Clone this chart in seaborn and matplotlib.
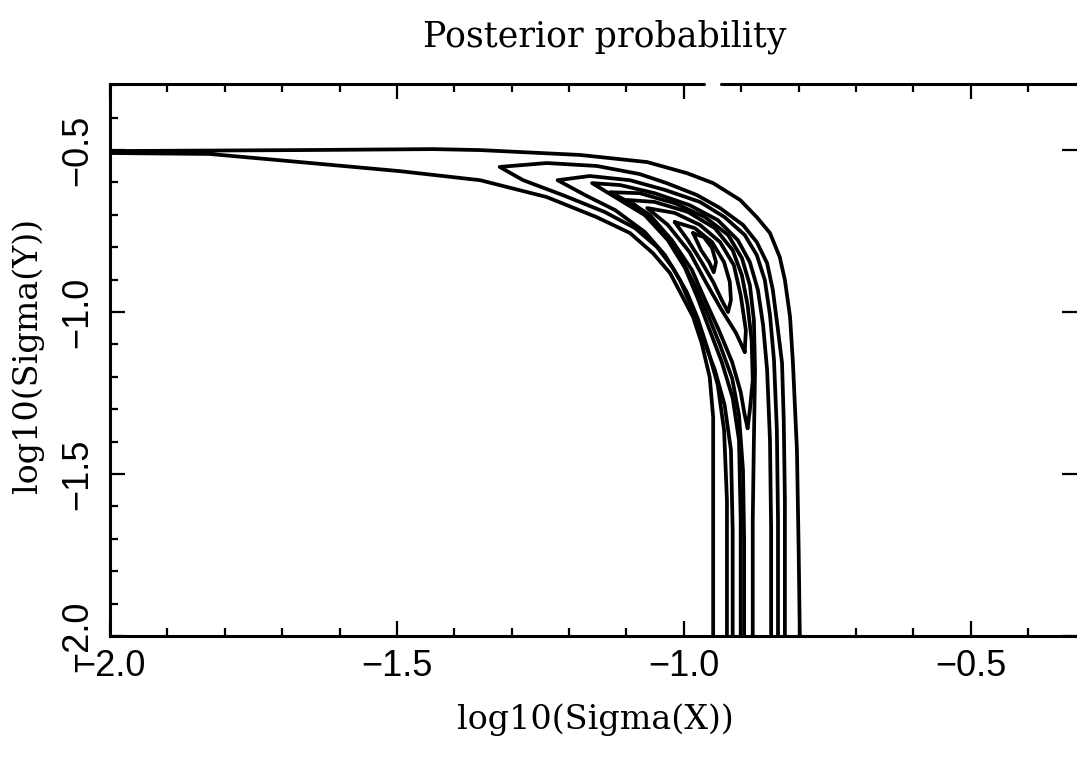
import matplotlib
matplotlib.use("Agg")
import matplotlib.pyplot as plt
from matplotlib.ticker import MultipleLocator
import numpy as np
import pandas as pd
import seaborn as sns

# ---------------- data ----------------
title_text = "Posterior probability"
x_label = "log10(Sigma(X))"
y_label = "log10(Sigma(Y))"

xtick_values = [-2.0, -1.5, -1.0, -0.5]
xtick_labels = ["\u22122.0", "\u22121.5", "\u22121.0", "\u22120.5"]
ytick_values = [-2.0, -1.5, -1.0, -0.5]
ytick_labels = ["\u22122.0", "\u22121.5", "\u22121.0", "\u22120.5"]

# contour level 1 (outermost, open: left axis -> bottom)
L1_x = [-0.798, -0.800, -0.803, -0.810, -0.815, -0.824, -0.833, -0.850, -0.873, -0.902,
        -0.949, -0.995, -1.064, -1.181, -1.355, -1.437, -1.669, -2.000,
        -2.000, -1.826, -1.669, -1.495, -1.355, -1.239, -1.152, -1.094, -1.054, -1.024,
        -1.002, -0.984, -0.969, -0.955, -0.949, -0.949]
L1_y = [-2.000, -1.735, -1.426, -1.157, -1.015, -0.901, -0.830, -0.756, -0.707, -0.654,
        -0.602, -0.571, -0.537, -0.515, -0.500, -0.497, -0.500, -0.503,
        -0.509, -0.512, -0.537, -0.565, -0.593, -0.645, -0.707, -0.756, -0.818, -0.880,
        -0.954, -1.015, -1.096, -1.201, -1.324, -2.000]

L2_x = [-0.824, -0.824, -0.826, -0.829, -0.836, -0.845, -0.855, -0.873, -0.897, -0.937,
        -0.977, -1.030, -1.077, -1.152, -1.239, -1.321, -1.280, -1.211, -1.138, -1.085,
        -1.047, -1.019, -0.995, -0.976, -0.958, -0.941, -0.930, -0.925, -0.925]
L2_y = [-2.000, -1.580, -1.333, -1.157, -1.056, -0.932, -0.849, -0.784, -0.731, -0.679,
        -0.639, -0.602, -0.574, -0.549, -0.540, -0.552, -0.593, -0.639, -0.691, -0.741,
        -0.799, -0.864, -0.938, -1.019, -1.117, -1.225, -1.364, -1.580, -2.000]

L3_x = [-0.836, -0.836, -0.838, -0.843, -0.850, -0.859, -0.873, -0.894, -0.929, -0.972,
        -1.033, -1.094, -1.164, -1.220, -1.172, -1.120, -1.068, -1.033, -1.007, -0.986,
        -0.967, -0.946, -0.929, -0.918, -0.915, -0.915]
L3_y = [-2.000, -1.642, -1.364, -1.148, -1.009, -0.901, -0.824, -0.762, -0.707, -0.660,
        -0.623, -0.593, -0.580, -0.593, -0.639, -0.685, -0.753, -0.824, -0.901, -0.988,
        -1.080, -1.179, -1.287, -1.426, -1.673, -2.000]

L4_x = [-0.848, -0.848, -0.850, -0.855, -0.862, -0.871, -0.885, -0.906, -0.941, -0.990,
        -1.051, -1.111, -1.160, -1.120, -1.068, -1.028, -0.998, -0.976, -0.955, -0.934,
        -0.915, -0.904, -0.901, -0.901]
L4_y = [-2.000, -1.673, -1.395, -1.179, -1.040, -0.932, -0.846, -0.778, -0.716, -0.670,
        -0.633, -0.608, -0.602, -0.645, -0.701, -0.778, -0.864, -0.957, -1.056, -1.154,
        -1.265, -1.395, -1.642, -2.000]

L5_x = [-0.880, -0.880, -0.878, -0.876, -0.878, -0.885, -0.899, -0.923, -0.963, -1.016,
        -1.077, -1.129, -1.085, -1.042, -1.007, -0.981, -0.958, -0.937, -0.916, -0.904,
        -0.897, -0.895, -0.895]
L5_y = [-2.000, -1.642, -1.395, -1.179, -1.025, -0.917, -0.833, -0.762, -0.707, -0.664,
        -0.633, -0.630, -0.670, -0.741, -0.827, -0.917, -1.009, -1.102, -1.204, -1.318,
        -1.488, -1.704, -2.000]

# closed inner levels
L6_x = [-0.889, -0.885, -0.880, -0.882, -0.889, -0.899, -0.915, -0.946, -0.993, -1.051,
        -1.099, -1.059, -1.021, -0.986, -0.963, -0.939, -0.916, -0.901, -0.894, -0.889]
L6_y = [-1.358, -1.302, -1.210, -1.086, -0.978, -0.886, -0.809, -0.741, -0.691, -0.660,
        -0.654, -0.701, -0.778, -0.870, -0.963, -1.056, -1.154, -1.247, -1.318, -1.358]

L7_x = [-0.894, -0.892, -0.901, -0.913, -0.937, -0.972, -1.016, -1.064, -1.028, -0.990,
        -0.962, -0.934, -0.909, -0.894]
L7_y = [-1.123, -1.056, -0.948, -0.855, -0.784, -0.731, -0.694, -0.679, -0.731, -0.815,
        -0.907, -0.994, -1.065, -1.123]

L8_x = [-1.016, -0.981, -0.951, -0.930, -0.920, -0.918, -0.923, -0.934, -0.949, -0.969,
        -0.993, -1.016]
L8_y = [-0.722, -0.741, -0.784, -0.846, -0.907, -0.963, -1.000, -0.963, -0.907, -0.846,
        -0.778, -0.722]

L9_x = [-0.984, -0.965, -0.951, -0.944, -0.948, -0.956, -0.970, -0.984]
L9_y = [-0.756, -0.769, -0.802, -0.846, -0.877, -0.846, -0.809, -0.756]

contours = {
    "L1": (L1_x, L1_y), "L2": (L2_x, L2_y), "L3": (L3_x, L3_y),
    "L4": (L4_x, L4_y), "L5": (L5_x, L5_y), "L6": (L6_x, L6_y),
    "L7": (L7_x, L7_y), "L8": (L8_x, L8_y), "L9": (L9_x, L9_y),
}

frames = []
for name, (xs, ys) in contours.items():
    frames.append(pd.DataFrame({"x": xs, "y": ys, "level": name,
                                "order": np.arange(len(xs))}))
df = pd.concat(frames, ignore_index=True)

# ---------------- drawing ----------------
sns.set_style("ticks")
plt.rcParams["font.family"] = ["Liberation Sans", "DejaVu Sans"]
plt.rcParams["axes.unicode_minus"] = True
for key in ["text.color", "axes.labelcolor", "xtick.color", "ytick.color",
            "axes.edgecolor"]:
    plt.rcParams[key] = "black"

W, H = 1077, 757
fig = plt.figure(figsize=(W / 100, H / 100), dpi=100)
ax = fig.add_axes([110 / W, 1 - 636 / H, 967 / W, 552 / H])

sns.lineplot(data=df, x="x", y="y", units="level", estimator=None, sort=False,
             color="black", linewidth=2.7, ax=ax, legend=False)

ax.set_xlim(-2.0, -0.315)
ax.set_ylim(-2.0, -0.296)

ax.set_xticks(xtick_values)
ax.set_xticklabels(xtick_labels, fontsize=26, family="Liberation Sans")
ax.set_yticks(ytick_values)
ax.set_yticklabels(ytick_labels, fontsize=26, family="Liberation Sans",
                   rotation=90, va="center")
ax.xaxis.set_minor_locator(MultipleLocator(0.1))
ax.yaxis.set_minor_locator(MultipleLocator(0.1))

ax.tick_params(which="both", direction="in", colors="black", width=1.6,
               top=True, bottom=True, left=True, right=False)
ax.tick_params(axis="y", which="major", right=True)
ax.tick_params(which="major", length=11)
ax.tick_params(which="minor", length=6)
ax.tick_params(axis="x", which="major", pad=9)
ax.tick_params(axis="y", which="major", pad=10.5)

for side in ["left", "bottom"]:
    ax.spines[side].set_linewidth(2.2)
    ax.spines[side].set_color("black")
ax.spines["right"].set_visible(False)
ax.spines["top"].set_visible(False)
# top frame line with the small gap seen in the reference
ax.axhline(ax.get_ylim()[1], xmin=0.0, xmax=0.614, color="black", lw=2.2, clip_on=False)
ax.axhline(ax.get_ylim()[1], xmin=0.632, xmax=1.0, color="black", lw=2.2, clip_on=False)

ax.set_xlabel(x_label, fontsize=24, family="DejaVu Serif")
ax.set_ylabel(y_label, fontsize=24, family="DejaVu Serif")
ax.xaxis.set_label_coords((595 - 110) / 967, (636 - 720) / 552)
ax.yaxis.set_label_coords((28 - 110) / 967, (636 - 355) / 552)
ax.xaxis.label.set_va("center")
ax.yaxis.label.set_va("center")

fig.text(605 / W, 1 - 47 / H, title_text, fontsize=25, family="DejaVu Serif",
         ha="center", va="baseline")

fig.savefig("out.png", dpi=100, facecolor="white")
